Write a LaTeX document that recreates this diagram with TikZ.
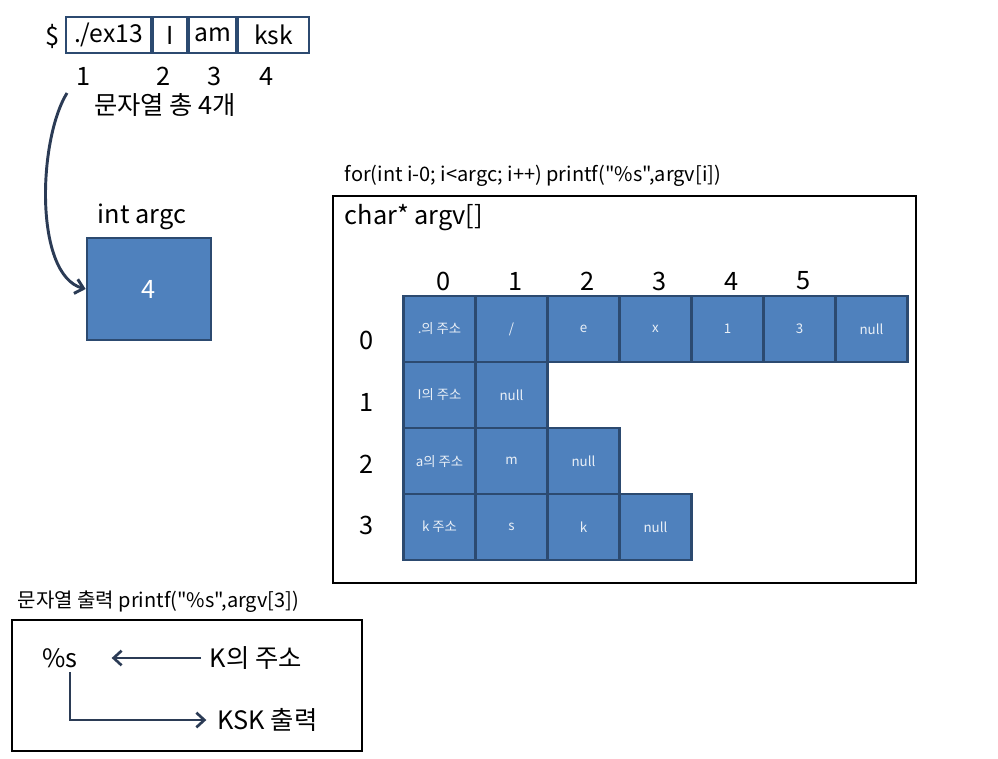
\documentclass[tikz,border=0pt]{standalone}
\usepackage{fontspec}
\setmainfont{Noto Sans CJK KR}[Ligatures=TeXOff]
\usetikzlibrary{arrows.meta,positioning}
\definecolor{cellblue}{HTML}{4F81BD}
\definecolor{celledge}{HTML}{2C4A70}
\definecolor{arrowink}{HTML}{2B3B55}

\begin{document}
\begin{tikzpicture}[x=0.75pt,y=-0.75pt,
  cell/.style={draw=celledge,line width=2.2pt,fill=cellblue,text=white!88!cellblue,
    minimum width=54pt,minimum height=49.5pt,inner sep=0pt,font=\fontsize{10}{12}\selectfont},
  argcell/.style={draw=celledge,line width=1.5pt,minimum height=27pt,inner sep=0pt,
    font=\fontsize{18.5}{20}\selectfont},
  frame/.style={draw,line width=1.5pt,inner sep=0pt},
  txt/.style={font=\fontsize{19}{21}\selectfont},
  idx/.style={font=\fontsize{19}{21}\selectfont},
  small/.style={font=\fontsize{15}{17}\selectfont},
  link/.style={draw=arrowink,line width=2pt,-{Straight Barb[length=6pt,width=11pt]}}]
  \useasboundingbox (0,0) rectangle (998,758);
  % command line
  \node[txt] (dollar) at (53,36) {\$};
  \node[argcell,minimum width=63.75pt] (arg1) at (108.5,35) {./ex13};
  \node[argcell,minimum width=25.5pt,right=0pt of arg1] (arg2) {I};
  \node[argcell,minimum width=35.25pt,right=0pt of arg2] (arg3) {am};
  \node[argcell,minimum width=53.25pt,right=0pt of arg3] (arg4) {ksk};
  \node[idx] (n1) at (84,76) {1};
  \node[idx] (n2) at (164,76) {2};
  \node[idx] (n3) at (215,76) {3};
  \node[idx] (n4) at (267,76) {4};
  \node[txt] (count) at (165,105) {문자열 총 4개};
  % argc
  \node[txt] (argclabel) at (142,217) {int argc};
  \node[draw=celledge,line width=2pt,fill=cellblue,text=white,minimum width=93pt,
    minimum height=76.5pt,font=\fontsize{19}{21}\selectfont] (argcbox) at (149,289) {4};
  \coordinate (cstart) at (67,93);
  \draw[link,line width=2.2pt] (cstart) .. controls (38,140) and (34,275) .. (argcbox.west);
  % argv
  \node[small,anchor=west] (loop) at (340,176) {for(int i-0; i<argc; i++) printf("\%s",argv[i])};
  \node[frame,minimum width=437.25pt,minimum height=290.25pt] (argvbox) at (624.5,389.5) {};
  \node[txt,anchor=west] (argvlabel) at (340,218) {char* argv[]};
  \foreach \c in {0,...,5}
    \node[idx] (col\c) at ({444+72*\c},281) {\c};
  \foreach \r/\y in {0/340,1/402,2/464,3/525}
    \node[idx] (row\r) at (367,\y) {\r};
  \foreach \r/\c/\t in {0/0/{.의 주소},0/1/{/},0/2/e,0/3/x,0/4/1,0/5/3,0/6/null,
      1/0/{I의 주소},1/1/null,
      2/0/{a의 주소},2/1/m,2/2/null,
      3/0/{k 주소},3/1/s,3/2/k,3/3/null}
    \node[cell] (c\r\c) at ({439.5+72*\c},{329+66*\r}) {\t};
  % printf
  \node[small,anchor=west] (printcap) at (13,602) {문자열 출력 printf("\%s",argv[3])};
  \node[frame,minimum width=262.5pt,minimum height=98.25pt] (printbox) at (187,685.5) {};
  \node[txt] (pct) at (60,658) {\%s};
  \node[txt,anchor=west] (kaddr) at (205,658) {K의 주소};
  \node[txt,anchor=west] (kout) at (213,720) {KSK 출력};
  \draw[link,shorten >=22pt,shorten <=3pt] (kaddr.west) -- (pct.east);
  \draw[link,shorten >=5pt] ([xshift=7.5pt]pct.south) |- (kout.west);
\end{tikzpicture}
\end{document}
